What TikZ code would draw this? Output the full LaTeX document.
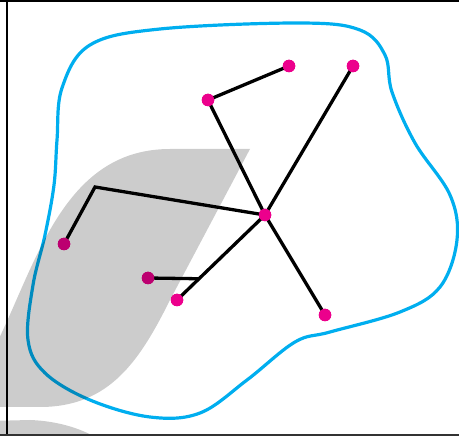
\documentclass[tikz,border=0pt]{standalone}
\usetikzlibrary{calc}
\definecolor{dotmag}{RGB}{236,0,140}
\definecolor{loopblue}{RGB}{0,174,239}
\definecolor{framegrey}{RGB}{50,50,50}
\tikzset{
  dotnode/.style={circle,fill=dotmag,draw=none,minimum size=12.5pt,inner sep=0pt},
  edgeline/.style={line width=3.3pt,black,line join=miter},
  loopline/.style={line width=3.2pt,loopblue},
  shade/.style={fill=black,fill opacity=0.2,draw=none}
}
\begin{document}
\begin{tikzpicture}[x=1pt,y=-1pt]
\useasboundingbox (0,0) rectangle (459,436);
\clip (0,0) rectangle (459,436);
% blue closed curve
\draw[loopline] plot[smooth cycle,tension=0.6] coordinates {
(57,140) (62,88) (90,45) (160,29) (300,23) (360,30) (385,55) (392,92)
(415,143) (450,195) (457,240) (440,287) (400,312) (330,332) (295,342)
(247,380) (200,413) (150,417) (90,400) (45,373) (28,340) (33,285) (45,235) (54,185)};
% nodes
\node[dotnode] (hub) at (265,215) {};
\node[dotnode] (a) at (289,66) {};
\node[dotnode] (b) at (353,66) {};
\node[dotnode] (c) at (208,100) {};
\node[dotnode] (d) at (64,244) {};
\node[dotnode] (e) at (148,278) {};
\node[dotnode] (f) at (177,300) {};
\node[dotnode] (g) at (325,315) {};
\coordinate (bend) at (95,187);
\coordinate (join) at ($(hub.center)!0.75!(f.center)$);
% connectors
\draw[edgeline] (c.center) -- (a.center);
\draw[edgeline] (c.center) -- (hub.center);
\draw[edgeline] (b.center) -- (hub.center);
\draw[edgeline] (hub.center) -- (g.center);
\draw[edgeline] (hub.center) -- (bend) -- (d.center);
\draw[edgeline] (hub.center) -- (f.center);
\draw[edgeline] (e.center) -- (join);
% redraw dots on top
\foreach \n in {hub,a,b,c,d,e,f,g}{\fill[dotmag] (\n) circle (6.25pt);}
% grey overlay
\fill[shade] (250,149) -- (170,300) .. controls (140,360) and (110,407) .. (40,407)
  -- (-20,407) -- (-20,380) -- (3,330) .. controls (40,250) and (70,149) .. (170,149) -- cycle;
\fill[shade] (-10,421) -- (30,420) .. controls (60,421) and (85,430) .. (100,440) -- (-10,440) -- cycle;
% frame
\draw[line width=1.5pt,black] (7,0) -- (7,436);
\draw[line width=1.5pt,black] (0,1) -- (459,1);
\draw[line width=2pt,framegrey] (0,435) -- (459,435);
\end{tikzpicture}
\end{document}
